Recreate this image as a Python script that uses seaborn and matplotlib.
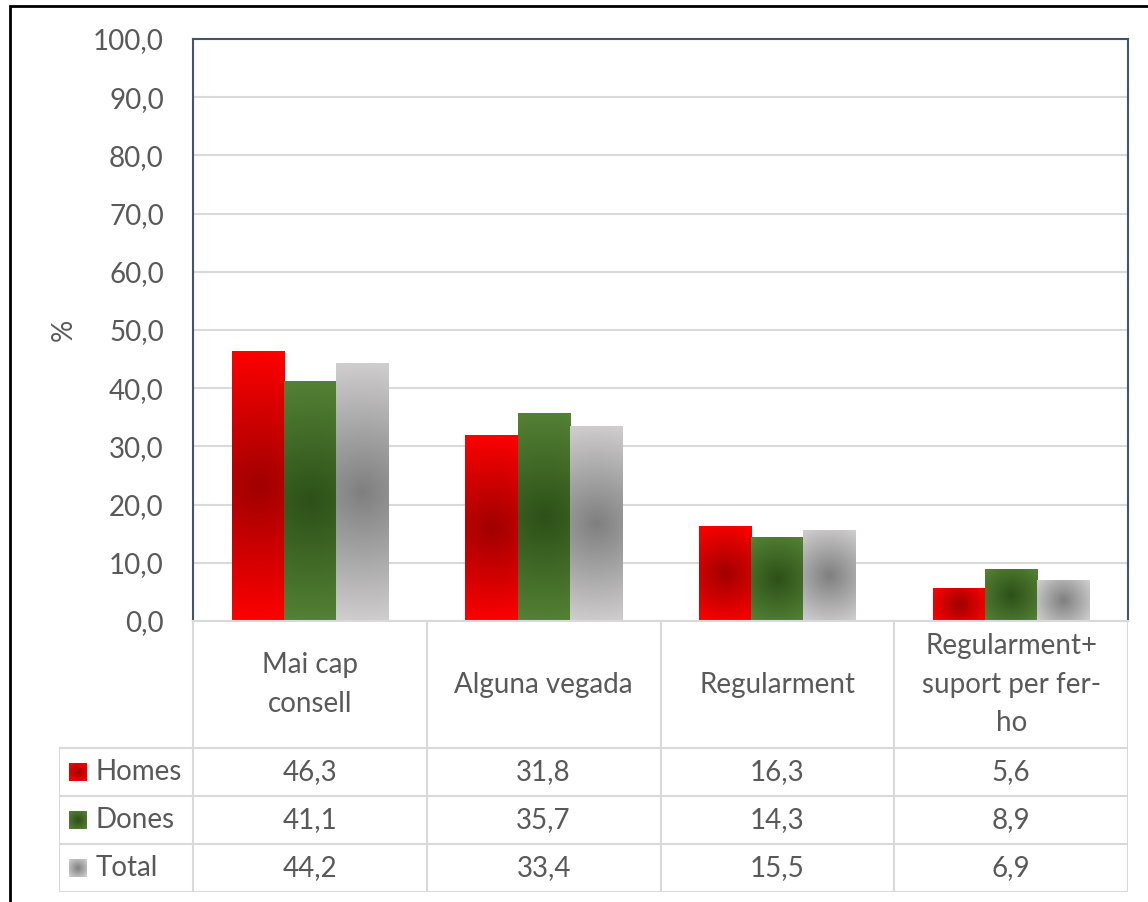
import numpy as np
import pandas as pd
import matplotlib
matplotlib.use("Agg")
import matplotlib.pyplot as plt
import matplotlib.colors as mcolors
from matplotlib.patches import Rectangle
import seaborn as sns

# data
categories = ["Mai cap\nconsell", "Alguna vegada", "Regularment", "Regularment+\nsuport per fer-\nho"]
series = ["Homes", "Dones", "Total"]
homes = [46.3, 31.8, 16.3, 5.6]
dones = [41.1, 35.7, 14.3, 8.9]
total = [44.2, 33.4, 15.5, 6.9]

edge_colors = {"Homes": "#FF0000", "Dones": "#548235", "Total": "#D0CECE"}
center_colors = {"Homes": "#A00000", "Dones": "#2D5018", "Total": "#7F7F7F"}

TXT = "#595959"
GRID = "#D9D9D9"
FRAME = "#44546A"

sns.set_style("white")
plt.rcParams["font.family"] = ["Lato", "DejaVu Sans"]

df = pd.DataFrame({
    "cat": np.repeat(categories, 3),
    "serie": series * len(categories),
    "val": np.ravel(np.column_stack([homes, dones, total])),
})

W, H = 1148, 902
fig = plt.figure(figsize=(W / 100, H / 100), dpi=100)

def fig_rect(x0, y0, x1, y1):
    return [x0 / W, 1 - y1 / H, (x1 - x0) / W, (y1 - y0) / H]

ax = fig.add_axes(fig_rect(193, 39, 1128, 621))
sns.barplot(data=df, x="cat", y="val", hue="serie", order=categories, hue_order=series,
            palette=edge_colors, width=0.67, gap=0, saturation=1, legend=False, ax=ax,
            linewidth=0)

ax.set_xlim(-0.5, 3.5)
ax.set_ylim(0, 100)
ax.set_yticks(np.arange(0, 101, 10))
ax.set_yticklabels([f"{v:.1f}".replace(".", ",") for v in np.arange(0, 101, 10)],
                   fontsize=20, color=TXT)
ax.tick_params(axis="y", length=0, pad=21)
ax.set_xticks([])
ax.set_xlabel("")
ax.set_ylabel("%", fontsize=20, color=TXT)
ax.yaxis.set_label_coords(-0.124, 0.5)
ax.yaxis.grid(True, color=GRID, lw=1.5)
ax.set_axisbelow(True)
for s in ["left", "top", "right"]:
    ax.spines[s].set_color(FRAME)
    ax.spines[s].set_linewidth(1.5)
ax.spines["bottom"].set_color(GRID)
ax.spines["bottom"].set_linewidth(1.5)


def gradient_img(wpx, hpx, c_edge, c_center, nx=40):
    ny = max(int(nx * hpx / wpx), 4)
    X, Y = np.meshgrid(np.linspace(-1, 1, nx), np.linspace(-1, 1, ny))
    d = np.sqrt((X * wpx / 2) ** 2 + (Y * hpx / 2) ** 2) / np.sqrt((wpx / 2) ** 2 + (hpx / 2) ** 2)
    d = np.clip(d, 0, 1)[..., None]
    e = np.array(mcolors.to_rgb(c_edge))
    c = np.array(mcolors.to_rgb(c_center))
    return c + (e - c) * d


# radial gradient over each bar
px_x = 935 / 4.0
px_y = 582 / 100.0
for i, bar in enumerate(ax.patches):
    name = series[i // len(categories)]
    x, y = bar.get_x(), bar.get_y()
    w, h = bar.get_width(), bar.get_height()
    if h <= 0:
        continue
    img = gradient_img(w * px_x, h * px_y, edge_colors[name], center_colors[name])
    ax.imshow(img, extent=[x, x + w, y, y + h], aspect="auto", interpolation="bilinear",
              zorder=bar.get_zorder() + 0.1)
ax.set_xlim(-0.5, 3.5)
ax.set_ylim(0, 100)

# data table below the plot
leg_w = 134 / px_x
tab = fig.add_axes(fig_rect(59, 621, 1128, 892))
tab.set_xlim(-0.5 - leg_w, 3.5)
tab.set_ylim(271, 0)
tab.axis("off")

row_edges = [0, 127, 175, 223, 271]
kw = dict(color=GRID, lw=1.5, solid_capstyle="projecting")
for k in range(len(categories) + 1):
    tab.plot([k - 0.5, k - 0.5], [0, 271], **kw)
tab.plot([-0.5 - leg_w, -0.5 - leg_w], [127, 271], **kw)
for yv in row_edges[1:]:
    tab.plot([-0.5 - leg_w, 3.5], [yv, yv], **kw)

for k, cat in enumerate(categories):
    tab.text(k, 63.5, cat, ha="center", va="center", fontsize=20, color=TXT,
             linespacing=1.58)

values = {"Homes": homes, "Dones": dones, "Total": total}
sq_w = 18 / px_x
for r, name in enumerate(series):
    yc = (row_edges[r + 1] + row_edges[r + 2]) / 2
    x0 = -0.5 - leg_w + 10 / px_x
    img = gradient_img(18, 18, edge_colors[name], center_colors[name], nx=12)
    tab.imshow(img, extent=[x0, x0 + sq_w, yc + 9, yc - 9], aspect="auto",
               interpolation="bilinear")
    tab.text(x0 + 27 / px_x, yc, name, ha="left", va="center", fontsize=20, color=TXT)
    for k, v in enumerate(values[name]):
        tab.text(k, yc, f"{v:.1f}".replace(".", ","), ha="center", va="center",
                 fontsize=20, color=TXT)
tab.set_xlim(-0.5 - leg_w, 3.5)
tab.set_ylim(271, 0)

# outer frame of the chart
fig.add_artist(Rectangle((10 / W, -0.1), 2, 1.1 - 5.5 / H, transform=fig.transFigure,
                         fill=False, edgecolor="black", lw=2))

fig.savefig("out.png", dpi=100)
